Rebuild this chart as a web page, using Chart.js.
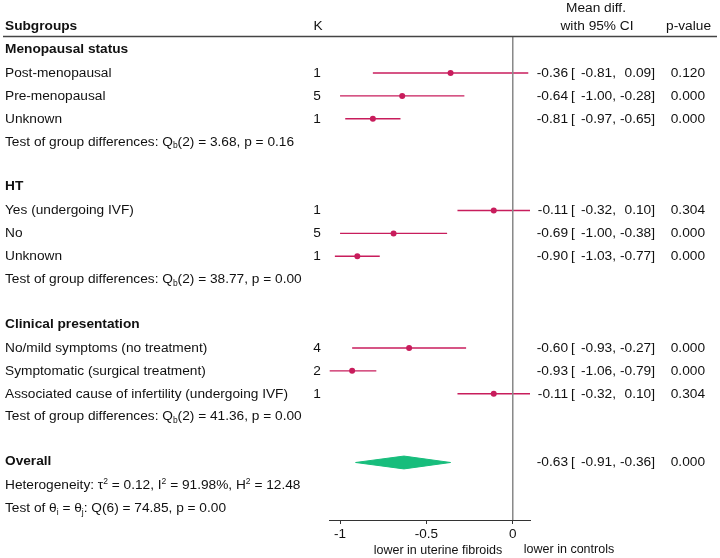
<!DOCTYPE html>
<html lang="en">
<head>
  <meta charset="UTF-8">
  <title>Forest plot subgroups</title>
  <script src="https://cdn.jsdelivr.net/npm/chart.js"></script>
  <style>
    body { margin: 0; background: #fff; }
  </style>
</head>
<body>
  <canvas id="forest" width="720" height="558"></canvas>

  <script>
    // rows of the table, top to bottom (one slot each)
    const groupNames = ['Menopausal status', 'HT', 'Clinical presentation'];
    const studyLabels = [
      'Post-menopausal', 'Pre-menopausal', 'Unknown',
      'Yes (undergoing IVF)', 'No', 'Unknown',
      'No/mild symptoms (no treatment)', 'Symptomatic (surgical treatment)', 'Associated cause of infertility (undergoing IVF)'
    ];
    const kValues = [1, 5, 1, 1, 5, 1, 4, 2, 1];
    const estimates = [-0.36, -0.64, -0.81, -0.11, -0.69, -0.90, -0.60, -0.93, -0.11];
    const ciLow = [-0.81, -1.00, -0.97, -0.32, -1.00, -1.03, -0.93, -1.06, -0.32];
    const ciHigh = [0.09, -0.28, -0.65, 0.10, -0.38, -0.77, -0.27, -0.79, 0.10];
    const pValues = ['0.120', '0.000', '0.000', '0.304', '0.000', '0.000', '0.000', '0.000', '0.304'];

    // test of group differences per subgroup
    const qbValues = ['3.68', '38.77', '41.36'];
    const qbP = ['0.16', '0.00', '0.00'];

    // overall
    const overallEst = -0.63, overallLow = -0.91, overallHigh = -0.36, overallP = '0.000';
    const tau2 = '0.12', i2 = '91.98%', h2 = '12.48';
    const qAll = '74.85', qDf = 6, qAllP = '0.00';

    const xTicks = [-1, -0.5, 0];

    // row slots: header, 3 studies, test, blank  (x3), then overall block
    const studyRow = [];
    const headerRow = [];
    const testRow = [];
    groupNames.forEach((g, gi) => {
      const base = gi * 6;
      headerRow.push(base);
      for (let j = 1; j <= 3; j++) studyRow.push(base + j);
      testRow.push(base + 4);
    });
    const overallRow = 18;

    const fmt = v => v.toFixed(2);
    const FONT = '"Liberation Sans", Helvetica, Arial, sans-serif';
    const pink = '#c81d5c';

    const ciSets = estimates.map((e, i) => ({
      data: [{ x: ciLow[i], y: studyRow[i] }, { x: ciHigh[i], y: studyRow[i] }],
      showLine: true,
      borderColor: pink,
      borderWidth: 1.4,
      pointRadius: 0,
      clip: false
    }));

    const textPlugin = {
      id: 'tableText',
      afterDraw(chart) {
        const ctx = chart.ctx;
        const ys = chart.scales.y;
        const Y = r => ys.getPixelForValue(r);
        ctx.save();
        ctx.fillStyle = '#111';
        ctx.textBaseline = 'middle';

        const reg = '13.7px ' + FONT;
        const bold = 'bold 13.7px ' + FONT;

        // header
        ctx.font = bold;
        ctx.textAlign = 'left';
        ctx.fillText('Subgroups', 5, 26);
        ctx.font = reg;
        ctx.textAlign = 'center';
        ctx.fillText('K', 318, 26);
        ctx.fillText('Mean diff.', 596, 8);
        ctx.fillText('with 95% CI', 597, 26);
        ctx.textAlign = 'right';
        ctx.fillText('p-value', 711, 26);

        ctx.strokeStyle = '#444';
        ctx.lineWidth = 1.3;
        ctx.beginPath();
        ctx.moveTo(3, 36.5);
        ctx.lineTo(717, 36.5);
        ctx.stroke();

        const rich = (x, y, parts) => {
          ctx.textAlign = 'left';
          let cx = x;
          parts.forEach(([t, kind]) => {
            let dy = 0;
            if (kind === 'sub') { ctx.font = '8.5px ' + FONT; dy = 4; }
            else if (kind === 'sup') { ctx.font = '8.5px ' + FONT; dy = -4; }
            else ctx.font = reg;
            ctx.fillText(t, cx, y + dy);
            cx += ctx.measureText(t).width;
          });
          ctx.font = reg;
        };

        groupNames.forEach((g, gi) => {
          ctx.font = bold;
          ctx.textAlign = 'left';
          ctx.fillText(g, 5, Y(headerRow[gi]) - 1);
          rich(5, Y(testRow[gi]), [
            ['Test of group differences: Q', 'n'], ['b', 'sub'],
            ['(2) = ' + qbValues[gi] + ', p = ' + qbP[gi], 'n']
          ]);
        });

        const estCols = (y, e, lo, hi, p) => {
          ctx.font = reg;
          ctx.textAlign = 'right';
          ctx.fillText(fmt(e), 568, y);
          ctx.textAlign = 'left';
          ctx.fillText('[', 571, y);
          ctx.textAlign = 'right';
          ctx.fillText(fmt(lo) + ',', 616, y);
          ctx.fillText(fmt(hi) + ']', 655, y);
          ctx.fillText(p, 705, y);
        };

        studyLabels.forEach((lab, i) => {
          const y = Y(studyRow[i]);
          ctx.font = reg;
          ctx.textAlign = 'left';
          ctx.fillText(lab, 5, y);
          ctx.textAlign = 'center';
          ctx.fillText(String(kValues[i]), 317, y);
          estCols(y, estimates[i], ciLow[i], ciHigh[i], pValues[i]);
        });

        // overall block
        ctx.font = bold;
        ctx.textAlign = 'left';
        ctx.fillText('Overall', 5, Y(overallRow) - 1);
        estCols(Y(overallRow), overallEst, overallLow, overallHigh, overallP);
        rich(5, Y(overallRow + 1), [
          ['Heterogeneity: \u03c4', 'n'], ['2', 'sup'], [' = ' + tau2 + ', I', 'n'], ['2', 'sup'],
          [' = ' + i2 + ', H', 'n'], ['2', 'sup'], [' = ' + h2, 'n']
        ]);
        rich(5, Y(overallRow + 2), [
          ['Test of \u03b8', 'n'], ['i', 'sub'], [' = \u03b8', 'n'], ['j', 'sub'],
          [': Q(' + qDf + ') = ' + qAll + ', p = ' + qAllP, 'n']
        ]);

        // axis captions
        ctx.font = '12.5px ' + FONT;
        ctx.textAlign = 'center';
        ctx.fillText('lower in uterine fibroids', 438, 551);
        ctx.fillText('lower in controls', 569, 550);
        ctx.restore();
      }
    };

    new Chart(document.getElementById('forest'), {
      type: 'scatter',
      data: {
        datasets: [
          {
            data: [{ x: 0, y: -0.615 }, { x: 0, y: 20.51 }],
            showLine: true,
            borderColor: '#8a8a8a',
            borderWidth: 1,
            pointRadius: 0
          },
          ...ciSets,
          {
            data: estimates.map((e, i) => ({ x: e, y: studyRow[i] })),
            pointRadius: 3,
            pointBackgroundColor: pink,
            pointBorderWidth: 0,
            showLine: false
          },
          {
            data: [
              { x: overallLow, y: overallRow },
              { x: overallEst, y: overallRow - 0.28 },
              { x: overallHigh, y: overallRow },
              { x: overallEst, y: overallRow + 0.28 },
              { x: overallLow, y: overallRow }
            ],
            showLine: true,
            borderColor: '#17bd7c',
            backgroundColor: '#17bd7c',
            borderWidth: 1,
            pointRadius: 0,
            tension: 0,
            fill: 'shape'
          }
        ]
      },
      options: {
        responsive: false,
        animation: false,
        devicePixelRatio: 1,
        layout: { padding: { left: 329, right: 190, top: 36, bottom: 0 } },
        plugins: {
          legend: { display: false },
          tooltip: { enabled: false }
        },
        scales: {
          x: {
            type: 'linear',
            min: -1.064,
            max: 0.1,
            afterBuildTicks: s => { s.ticks = xTicks.map(v => ({ value: v })); },
            afterFit: s => { s.height = 38; },
            ticks: {
              callback: v => String(v),
              color: '#111',
              font: { family: FONT, size: 13.5 },
              padding: 2,
              maxRotation: 0
            },
            grid: { drawOnChartArea: false, drawTicks: true, tickLength: 4, color: '#333' },
            border: { display: true, color: '#333', width: 1 }
          },
          y: {
            type: 'linear',
            reverse: true,
            min: -0.615,
            max: 20.51,
            display: false
          }
        }
      },
      plugins: [textPlugin]
    });
  </script>
</body>
</html>
